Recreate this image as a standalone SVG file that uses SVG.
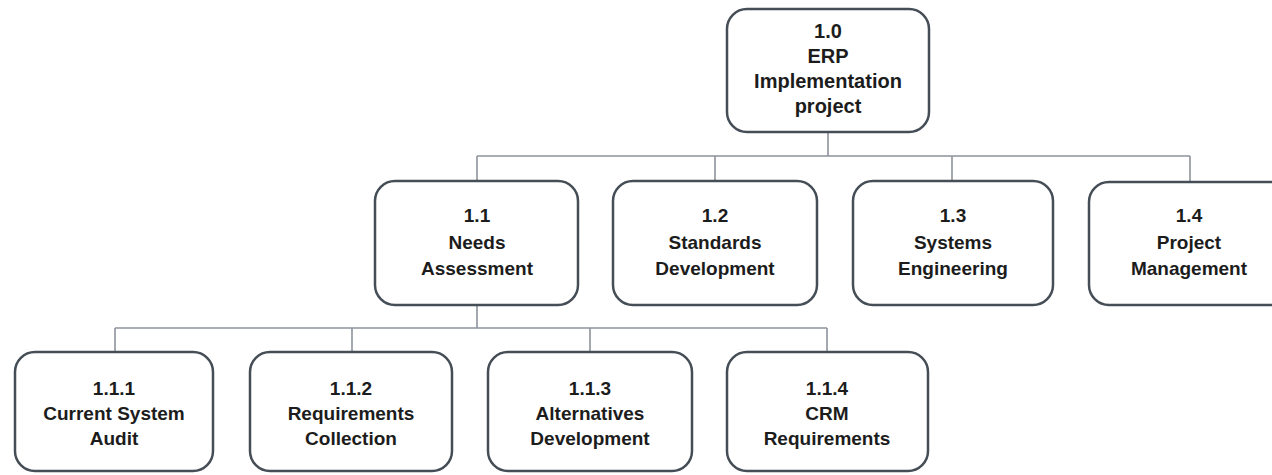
<svg xmlns="http://www.w3.org/2000/svg" width="1272" height="475" viewBox="0 0 1272 475">
<style>
.box{fill:#ffffff;stroke:#454d56;stroke-width:2.5}
.conn line{stroke:#8c939b;stroke-width:1.6}
text{font-family:"Liberation Sans",Arial,sans-serif;font-weight:bold;font-size:19px;fill:#1c1c1c;text-anchor:middle}
.root text{font-size:20px}
</style>
<rect width="1272" height="475" fill="#ffffff"/>
<g class="conn" id="connectors">
<line x1="828" y1="132" x2="828" y2="156"/>
<line x1="477" y1="156" x2="1190" y2="156"/>
<line x1="477" y1="156" x2="477" y2="180"/>
<line x1="715" y1="156" x2="715" y2="180"/>
<line x1="952" y1="156" x2="952" y2="180"/>
<line x1="1190" y1="156" x2="1190" y2="182"/>
<line x1="477" y1="305" x2="477" y2="328"/>
<line x1="115" y1="328" x2="827" y2="328"/>
<line x1="115" y1="328" x2="115" y2="352"/>
<line x1="352" y1="328" x2="352" y2="352"/>
<line x1="590" y1="328" x2="590" y2="352"/>
<line x1="827" y1="328" x2="827" y2="352"/>
</g>
<g id="n1_0" class="root">
<rect class="box" x="727" y="9" width="202" height="123" rx="20"/>
<text x="828" y="38">1.0</text>
<text x="828" y="63">ERP</text>
<text x="828" y="88">Implementation</text>
<text x="828" y="113">project</text>
</g>
<g id="n1_1">
<rect class="box" x="375" y="181" width="203" height="124" rx="20"/>
<text x="477" y="222">1.1</text>
<text x="477" y="249">Needs</text>
<text x="477" y="275">Assessment</text>
</g>
<g id="n1_2">
<rect class="box" x="613" y="181" width="204" height="124" rx="20"/>
<text x="715" y="222">1.2</text>
<text x="715" y="249">Standards</text>
<text x="715" y="275">Development</text>
</g>
<g id="n1_3">
<rect class="box" x="853" y="181" width="200" height="124" rx="20"/>
<text x="953" y="222">1.3</text>
<text x="953" y="249">Systems</text>
<text x="953" y="275">Engineering</text>
</g>
<g id="n1_4">
<rect class="box" x="1089" y="182" width="204" height="123" rx="20"/>
<text x="1189" y="222">1.4</text>
<text x="1189" y="249">Project</text>
<text x="1189" y="275">Management</text>
</g>
<g id="n1_1_1">
<rect class="box" x="15" y="352" width="198" height="119" rx="20"/>
<text x="114" y="395">1.1.1</text>
<text x="114" y="420">Current System</text>
<text x="114" y="445">Audit</text>
</g>
<g id="n1_1_2">
<rect class="box" x="250" y="352" width="202" height="119" rx="20"/>
<text x="351" y="395">1.1.2</text>
<text x="351" y="420">Requirements</text>
<text x="351" y="445">Collection</text>
</g>
<g id="n1_1_3">
<rect class="box" x="488" y="352" width="204" height="119" rx="20"/>
<text x="590" y="395">1.1.3</text>
<text x="590" y="420">Alternatives</text>
<text x="590" y="445">Development</text>
</g>
<g id="n1_1_4">
<rect class="box" x="727" y="352" width="201" height="119" rx="20"/>
<text x="827" y="395">1.1.4</text>
<text x="827" y="420">CRM</text>
<text x="827" y="445">Requirements</text>
</g>
</svg>
